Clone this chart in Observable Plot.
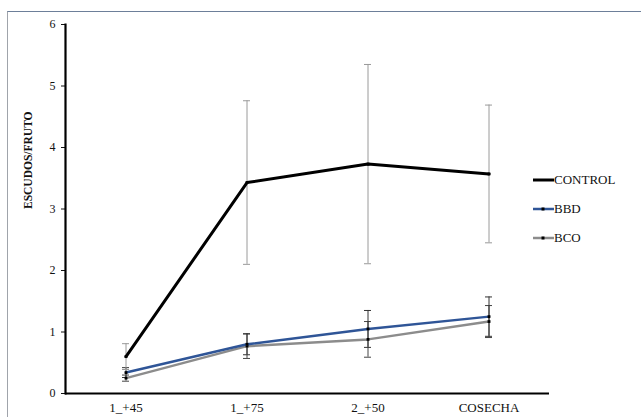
<!DOCTYPE html>
<html>
<head>
<meta charset="utf-8">
<script src="https://cdn.jsdelivr.net/npm/d3@7"></script>
<script src="https://cdn.jsdelivr.net/npm/@observablehq/plot@0.6"></script>
<style>
  html, body { margin: 0; padding: 0; background: #fff; }
  #wrap { position: relative; width: 641px; height: 417px; overflow: hidden; font-family: 'Liberation Serif', 'DejaVu Serif', serif; }
  #frame { position: absolute; left: 7px; top: 11px; width: 700px; height: 500px; border-left: 1px solid #a0a4ab; border-top: 1px solid #6d7f99; }
  #chart { position: absolute; left: 0; top: 0; }
  #chart svg, #chart svg text { font-family: 'Liberation Serif', 'DejaVu Serif', serif !important; }
  #legend { position: absolute; left: 533px; top: 0; font-size: 13px; color: #111; font-family: 'Liberation Serif', 'DejaVu Serif', serif; }
  .item { position: absolute; left: 0; display: flex; align-items: center; white-space: nowrap; }
  .item svg { display: block; }
</style>
</head>
<body>
<div id="wrap">
  <div id="frame"></div>
  <div id="chart"></div>
  <div id="legend"></div>
</div>
<script>
const categories = ["1_+45", "1_+75", "2_+50", "COSECHA"];
const seriesNames = ["CONTROL", "BBD", "BCO"];
const control = [0.60, 3.43, 3.73, 3.57];
const controlErr = [0.21, 1.33, 1.62, 1.12];
const bbd = [0.34, 0.80, 1.05, 1.25];
const bbdErr = [0.08, 0.17, 0.30, 0.32];
const bco = [0.25, 0.77, 0.88, 1.17];
const bcoErr = [0.05, 0.20, 0.29, 0.26];
const yTicks = [0, 1, 2, 3, 4, 5, 6];

const W = 641, H = 417, ML = 65, MR = 92, MT = 24, MB = 24;
const bandW = (W - ML - MR) / categories.length;
const capInset = (bandW - 7) / 2;
const FONT = "'Liberation Serif', 'DejaVu Serif', serif";

const colors = {CONTROL: "#000000", BBD: "#2f5597", BCO: "#8c8c8c"};
const widths = {CONTROL: 3, BBD: 2.5, BCO: 2.5};
const errColors = {CONTROL: "#9a9a9a", BBD: "#333333", BCO: "#444444"};

const values = {CONTROL: control, BBD: bbd, BCO: bco};
const errs = {CONTROL: controlErr, BBD: bbdErr, BCO: bcoErr};

const rows = [];
for (const s of seriesNames) {
  categories.forEach((c, i) => {
    rows.push({series: s, cat: c, v: values[s][i], lo: values[s][i] - errs[s][i], hi: values[s][i] + errs[s][i]});
  });
}
const order = ["BCO", "BBD", "CONTROL"];

const marks = [];
for (const s of order) {
  const d = rows.filter(r => r.series === s);
  marks.push(Plot.ruleX(d, {x: "cat", y1: "lo", y2: "hi", stroke: errColors[s], strokeWidth: 1}));
  marks.push(Plot.tickY(d, {x: "cat", y: "hi", stroke: errColors[s], strokeWidth: 1, insetLeft: capInset, insetRight: capInset}));
  marks.push(Plot.tickY(d, {x: "cat", y: "lo", stroke: errColors[s], strokeWidth: 1, insetLeft: capInset, insetRight: capInset}));
}
for (const s of order) {
  const d = rows.filter(r => r.series === s);
  marks.push(Plot.line(d, {x: "cat", y: "v", stroke: colors[s], strokeWidth: widths[s], strokeLinejoin: "miter"}));
  marks.push(Plot.dot(d, {x: "cat", y: "v", symbol: "square", r: 1.6, fill: "#000", stroke: "none"}));
}

const chart = Plot.plot({
  width: W,
  height: H,
  marginLeft: ML,
  marginRight: MR,
  marginTop: MT,
  marginBottom: MB,
  style: {fontFamily: FONT, background: "transparent", color: "#111"},
  x: {type: "band", domain: categories, padding: 0, label: null, tickSize: 0, tickPadding: 9},
  y: {domain: [0, 6], ticks: yTicks, label: null, tickSize: 4, tickPadding: 6, tickFormat: d3.format("d")},
  marks: [
    ...marks,
    Plot.ruleY([0], {stroke: "#000", strokeWidth: 2.2}),
    Plot.frame({anchor: "left", stroke: "#000", strokeWidth: 2.2}),
    Plot.text(["ESCUDOS/FRUTO"], {frameAnchor: "left", dx: -37, rotate: -90, fontWeight: "bold", fontSize: 11.5, fill: "#111", text: d => d})
  ]
});
chart.querySelectorAll('[aria-label="x-axis tick label"]').forEach(n => n.setAttribute("font-size", 13));
chart.querySelectorAll('[aria-label="y-axis tick label"]').forEach(n => n.setAttribute("font-size", 12));
document.getElementById("chart").appendChild(chart);

const legend = document.getElementById("legend");
const legendY = [180, 209, 238];
seriesNames.forEach((s, i) => {
  const item = document.createElement("div");
  item.className = "item";
  item.style.top = (legendY[i] - 9) + "px";
  item.style.height = "18px";
  const dot = s === "CONTROL" ? "" : `<rect x="8.5" y="7.5" width="3" height="3" fill="#000"/>`;
  item.innerHTML = `<svg width="21" height="18"><line x1="0" x2="21" y1="9" y2="9" stroke="${colors[s]}" stroke-width="${widths[s]}"/>${dot}</svg><span>${s}</span>`;
  legend.appendChild(item);
});
</script>
</body>
</html>
